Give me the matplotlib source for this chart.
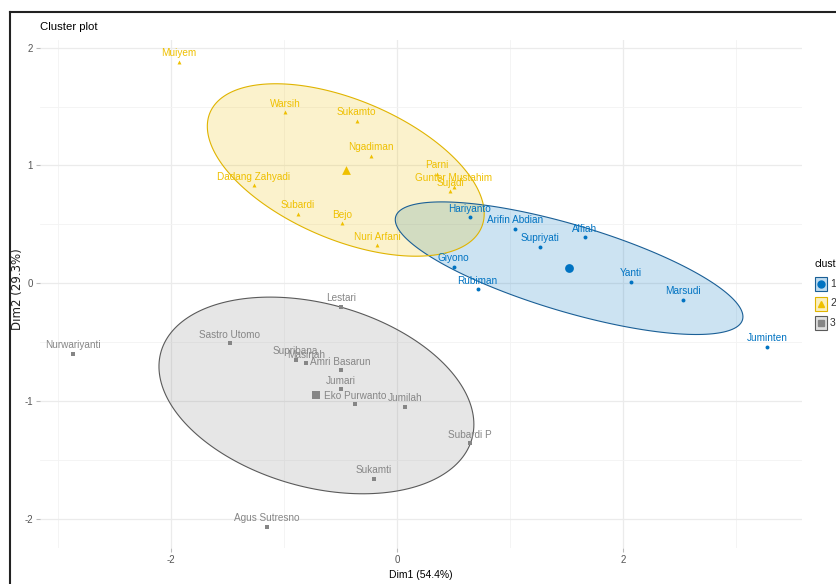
import numpy as np
import matplotlib.pyplot as plt
from matplotlib.patches import Polygon, Rectangle
from matplotlib.lines import Line2D

plt.rcParams['font.family'] = ['Liberation Sans', 'DejaVu Sans']
plt.rcParams['axes.unicode_minus'] = False

# cluster 1
names_1 = ['Hariyanto', 'Arifin Abdian', 'Supriyati', 'Alfiah', 'Giyono',
           'Rubiman', 'Yanti', 'Marsudi', 'Juminten']
dim1_1 = [0.64, 1.04, 1.26, 1.66, 0.50, 0.71, 2.07, 2.53, 3.27]
dim2_1 = [0.56, 0.46, 0.31, 0.39, 0.14, -0.05, 0.01, -0.14, -0.54]

# cluster 2
names_2 = ['Muiyem', 'Warsih', 'Sukamto', 'Ngadiman', 'Dadang Zahyadi', 'Subardi',
           'Bejo', 'Nuri Arfani', 'Parni', 'Gunter Mustahim', 'Sujadi']
dim1_2 = [-1.93, -0.99, -0.36, -0.23, -1.27, -0.88, -0.49, -0.18, 0.35, 0.50, 0.47]
dim2_2 = [1.88, 1.45, 1.38, 1.08, 0.83, 0.59, 0.51, 0.32, 0.93, 0.82, 0.78]

# cluster 3
names_3 = ['Lestari', 'Sastro Utomo', 'Nurwariyanti', 'Supribana', 'Masinah',
           'Amri Basarun', 'Jumari', 'Eko Purwanto', 'Jumilah', 'Subardi P',
           'Sukamti', 'Agus Sutresno']
dim1_3 = [-0.50, -1.48, -2.87, -0.90, -0.81, -0.50, -0.50, -0.37, 0.07, 0.64, -0.21, -1.15]
dim2_3 = [-0.20, -0.51, -0.60, -0.65, -0.68, -0.74, -0.90, -1.03, -1.05, -1.36, -1.66, -2.07]

cluster_labels = ['1', '2', '3']
colors = ['#0073C2', '#EFC000', '#868686']
edge_colors = ['#1A5F96', '#E0B400', '#5A5A5A']
markers = ['o', '^', 's']
ellipse_level = 0.68

clusters = [(names_1, dim1_1, dim2_1), (names_2, dim1_2, dim2_2), (names_3, dim1_3, dim2_3)]


def qf2(p, d):
    # F quantile with 2 numerator degrees of freedom (closed form)
    return d / 2.0 * ((1 - p) ** (-2.0 / d) - 1)


W, H = 837, 584
fig = plt.figure(figsize=(W / 100, H / 100), dpi=100)
ax = fig.add_axes([40 / W, 1 - 548 / H, (802 - 40) / W, (548 - 40) / H])

ax.set_xlim(-3.16, 3.58)
ax.set_ylim(-2.25, 2.065)
ax.set_xticks([-2, 0, 2])
ax.set_yticks([-2, -1, 0, 1, 2])
ax.set_xticks([-3, -1, 1, 3], minor=True)
ax.set_yticks([-1.5, -0.5, 0.5, 1.5], minor=True)
ax.grid(True, which='major', color='#EBEBEB', linewidth=0.9)
ax.grid(True, which='minor', color='#F3F3F3', linewidth=0.6)
ax.set_axisbelow(True)
for s in ax.spines.values():
    s.set_visible(False)
ax.tick_params(which='major', length=3, color='#BBBBBB', labelsize=7, labelcolor='#555555', pad=2)
ax.tick_params(which='minor', length=0)

t = np.linspace(0, 2 * np.pi, 200)
circle = np.column_stack([np.cos(t), np.sin(t)])

for i, (names, xs, ys) in enumerate(clusters):
    xs = np.array(xs)
    ys = np.array(ys)
    # normal-theory ellipse around each cluster
    center = np.array([xs.mean(), ys.mean()])
    cov = np.cov(xs, ys)
    chol = np.linalg.cholesky(cov).T
    r = np.sqrt(2 * qf2(ellipse_level, len(xs) - 1))
    pts = center + r * circle @ chol
    ax.add_patch(Polygon(pts, closed=True, facecolor=colors[i], alpha=0.2, edgecolor='none', zorder=1))
    ax.add_patch(Polygon(pts, closed=True, facecolor='none', edgecolor=edge_colors[i],
                         linewidth=0.8, zorder=2))
    ax.scatter(xs, ys, marker=markers[i], s=8, color=colors[i], zorder=3, linewidths=0)
    ax.scatter([center[0]], [center[1]], marker=markers[i], s=40, color=colors[i], zorder=3, linewidths=0)
    for n, x, y in zip(names, xs, ys):
        ax.annotate(n, (x, y), xytext=(0, 2.5), textcoords='offset points', ha='center', va='bottom',
                    fontsize=7.2, color=colors[i], zorder=4)

ax.set_xlabel('Dim1 (54.4%)', fontsize=7.5, labelpad=4)
fig.text(18 / W, 1 - 289 / H, 'Dim2 (29.3%)', fontsize=8.5, rotation=90, va='center', ha='center',
         family=['DejaVu Sans'], color='#222222')
fig.text(40 / W, 1 - 27 / H, 'Cluster plot', fontsize=8.2, va='center', ha='left')

# legend on the right margin
fig.text(815 / W, 1 - 264 / H, 'cluster', fontsize=7.5, va='center', ha='left')
for i, lab in enumerate(cluster_labels):
    top = 277 + i * 19.5
    fig.add_artist(Rectangle((815 / W, 1 - (top + 14) / H), 12 / W, 14 / H, transform=fig.transFigure,
                             facecolor=colors[i], alpha=0.25, edgecolor='none'))
    fig.add_artist(Rectangle((815 / W, 1 - (top + 14) / H), 12 / W, 14 / H, transform=fig.transFigure,
                             facecolor='none', edgecolor=edge_colors[i], linewidth=0.8))
    fig.add_artist(Line2D([821 / W], [1 - (top + 7) / H], marker=markers[i], markersize=5,
                          color=colors[i], transform=fig.transFigure))
    fig.text(830 / W, 1 - (top + 7) / H, lab, fontsize=7.5, va='center', ha='left', color='#333333')

# outer frame edges
fig.add_artist(Line2D([10 / W, 10 / W], [0, 1 - 12 / H], color='#222222', linewidth=1.5,
                      transform=fig.transFigure))
fig.add_artist(Line2D([10 / W, 1], [1 - 12 / H, 1 - 12 / H], color='#222222', linewidth=1.5,
                      transform=fig.transFigure))

fig.savefig('out.png', dpi=100)
